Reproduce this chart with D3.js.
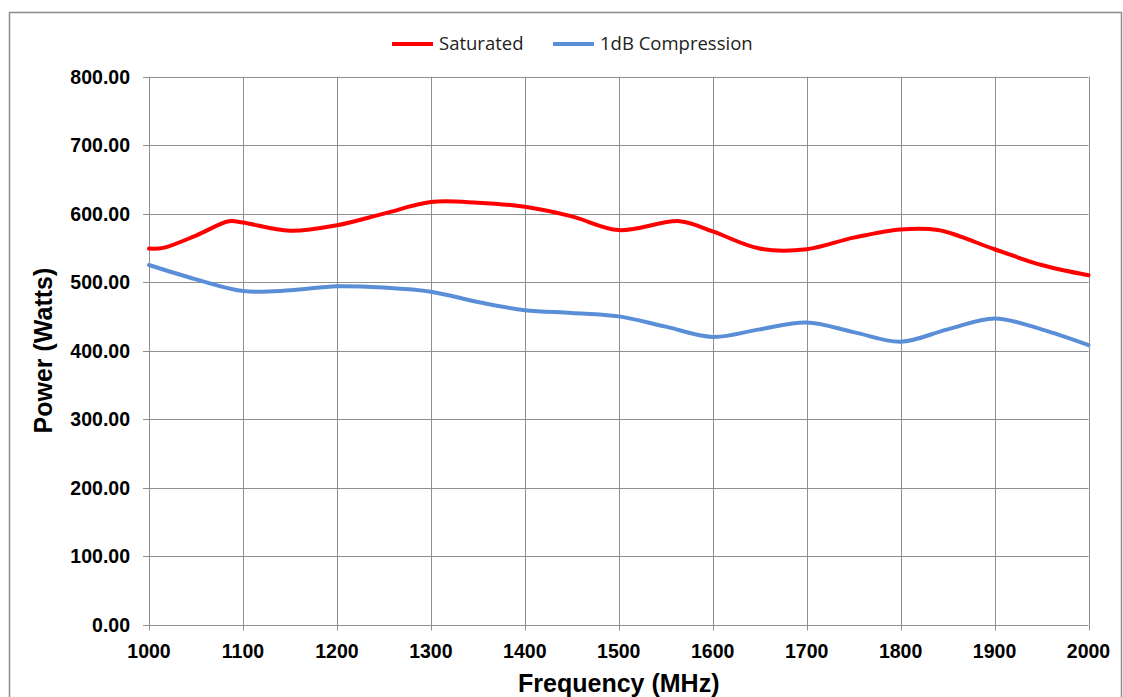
<!DOCTYPE html>
<html>
<head>
<meta charset="utf-8">
<script src="https://cdn.jsdelivr.net/npm/d3@7"></script>
<style>
  html, body { margin: 0; padding: 0; background: #fff; }
  svg { display: block; }
</style>
</head>
<body>
<svg id="chart" width="1123" height="697"></svg>
<script>
// ---- Data ----
const satFreq = [1000, 1015, 1050, 1085, 1100, 1150, 1200, 1250, 1300, 1350, 1400, 1450, 1500, 1565, 1600, 1650, 1700, 1750, 1800, 1840, 1900, 1950, 2000];
const satPower = [549, 550, 568, 589, 587, 575, 583, 600, 617, 616, 610, 596, 576, 589, 574, 549, 548, 565, 577, 576, 548, 525, 510];
const cmpFreq = [1000, 1050, 1100, 1150, 1200, 1250, 1300, 1350, 1400, 1450, 1500, 1550, 1600, 1650, 1700, 1750, 1800, 1850, 1900, 1950, 2000];
const cmpPower = [525, 504, 487, 488, 494, 492, 486, 471, 459, 455, 450, 435, 420, 431, 441, 427, 413, 431, 447, 431, 408];
const xTicks = [1000, 1100, 1200, 1300, 1400, 1500, 1600, 1700, 1800, 1900, 2000];
const yTicks = [0, 100, 200, 300, 400, 500, 600, 700, 800];
const seriesNames = ["Saturated", "1dB Compression"];
const seriesColors = ["#FF0000", "#5A8FD8"];

(function () {
const svg = d3.select("#chart");
const pL = 149, pR = 1088.5, pT = 76.7, pB = 624.5;

// outer chart border
svg.append("rect").attr("x", 9.5).attr("y", 12.5).attr("width", 1112).attr("height", 700)
  .attr("fill", "none").attr("stroke", "#8c8c8c").attr("stroke-width", 1.5);

const x = d3.scaleLinear().domain([1000, 2000]).range([pL, pR]);
const y = d3.scaleLinear().domain([0, 800]).range([pB, pT]);

// grid
const grid = svg.append("g");
grid.selectAll("line.h").data(yTicks).join("line")
  .attr("x1", pL - 6).attr("x2", pR)
  .attr("y1", d => Math.round(y(d)) + 0.5).attr("y2", d => Math.round(y(d)) + 0.5)
  .attr("stroke", "#8f8f8f").attr("stroke-width", 1);
grid.selectAll("line.v").data(xTicks).join("line")
  .attr("x1", d => Math.round(x(d)) + 0.5).attr("x2", d => Math.round(x(d)) + 0.5)
  .attr("y1", pT).attr("y2", pB + 6)
  .attr("stroke", "#8f8f8f").attr("stroke-width", 1);

// tick labels
const tickFont = "'Liberation Sans', Arial, sans-serif";
svg.append("g").selectAll("text").data(yTicks).join("text")
  .attr("x", 130).attr("y", d => y(d)).attr("dy", "0.36em")
  .attr("text-anchor", "end")
  .attr("font-family", tickFont).attr("font-weight", "bold").attr("font-size", 19.5)
  .attr("fill", "#000")
  .text(d => d3.format(".2f")(d));
svg.append("g").selectAll("text").data(xTicks).join("text")
  .attr("x", d => x(d)).attr("y", 658)
  .attr("text-anchor", "middle")
  .attr("font-family", tickFont).attr("font-weight", "bold").attr("font-size", 19.5)
  .attr("fill", "#000")
  .text(d => d);

// axis titles
svg.append("text").attr("x", (pL + pR) / 2).attr("y", 692)
  .attr("text-anchor", "middle")
  .attr("font-family", tickFont).attr("font-weight", "bold").attr("font-size", 25)
  .text("Frequency (MHz)");
svg.append("text")
  .attr("transform", `translate(52, ${(pT + pB) / 2}) rotate(-90)`)
  .attr("text-anchor", "middle")
  .attr("font-family", tickFont).attr("font-weight", "bold").attr("font-size", 25)
  .text("Power (Watts)");

// lines
const line = d3.line().x(d => x(d[0])).y(d => y(d[1])).curve(d3.curveCatmullRom.alpha(0.5));
const series = [
  d3.zip(satFreq, satPower),
  d3.zip(cmpFreq, cmpPower)
];
svg.append("g").selectAll("path").data(series).join("path")
  .attr("d", line)
  .attr("fill", "none")
  .attr("stroke", (d, i) => seriesColors[i])
  .attr("stroke-width", 4)
  .attr("stroke-linejoin", "round")
  .attr("stroke-linecap", "round");

// legend
const legendX = [392, 553];
const lg = svg.append("g");
seriesNames.forEach((name, i) => {
  lg.append("line").attr("x1", legendX[i]).attr("x2", legendX[i] + 41)
    .attr("y1", 44).attr("y2", 44)
    .attr("stroke", seriesColors[i]).attr("stroke-width", 4);
  lg.append("text").attr("x", legendX[i] + 47).attr("y", 44).attr("dy", "0.35em")
    .attr("font-family", "'Open Sans', 'Noto Sans', sans-serif").attr("font-size", 18.5)
    .attr("fill", "#222")
    .text(name);
});
})();
</script>
</body>
</html>
